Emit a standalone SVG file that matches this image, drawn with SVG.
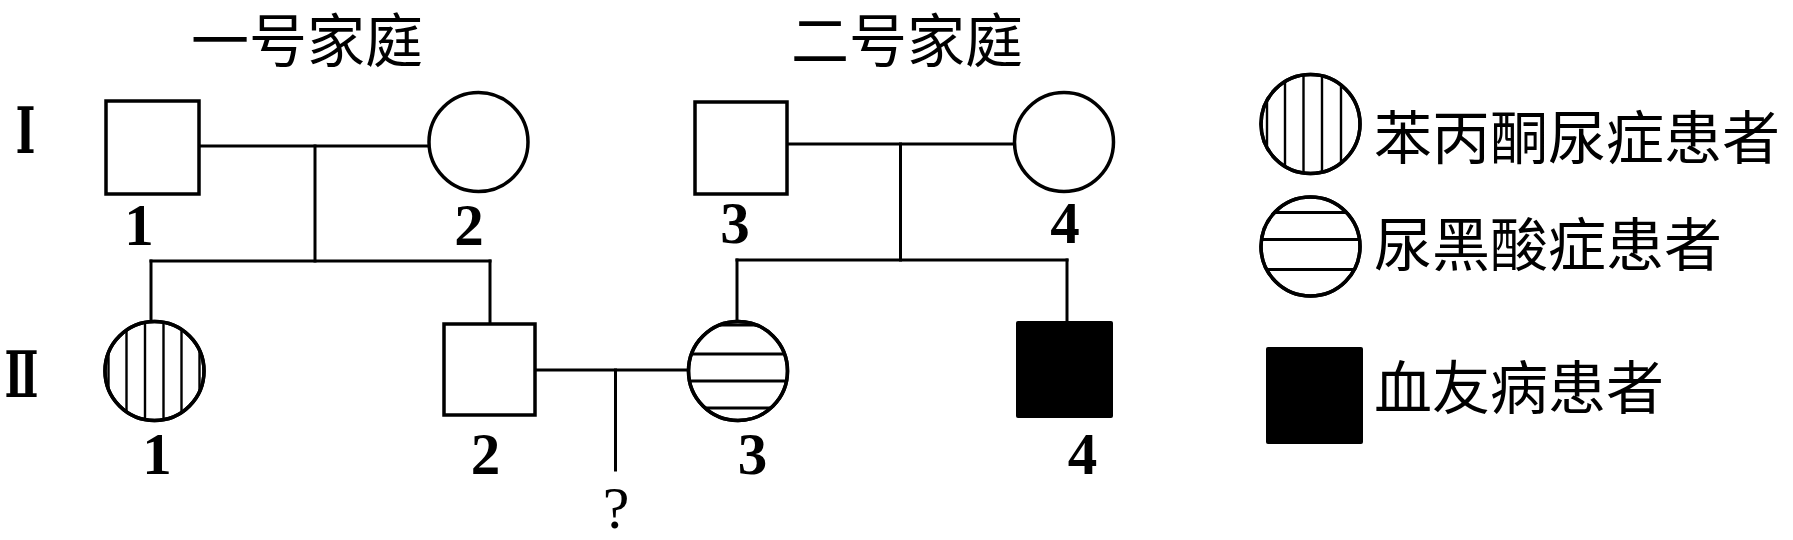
<svg xmlns="http://www.w3.org/2000/svg" width="1793" height="540" viewBox="0 0 1793 540">
<style>
.shape{fill:#fff;stroke:#000;stroke-width:3.5}
.filled{fill:#000;stroke:none}
.con{stroke:#000;stroke-width:3;fill:none;stroke-linecap:square}
.hv{stroke:#000;stroke-width:2.4}
.hh{stroke:#000;stroke-width:2.8}
.cjk{font-family:"Noto Sans CJK SC","Noto Sans CJK JP",sans-serif;font-size:58px;fill:#000}
.num{font-family:"Liberation Serif","Times New Roman",serif;font-weight:bold;font-size:59px;fill:#000;text-anchor:middle}
.rom{font-family:"Liberation Serif","DejaVu Serif",serif;font-weight:bold;font-size:64px;fill:#000;text-anchor:middle}
.q{font-family:"Liberation Serif","Times New Roman",serif;font-size:60px;fill:#000;text-anchor:middle}
</style>
<defs>
<clipPath id="cII1"><circle cx="154.5" cy="371" r="49.5"/></clipPath>
<clipPath id="cII3"><circle cx="738" cy="371" r="49.5"/></clipPath>
<clipPath id="cL1"><circle cx="1310.5" cy="124" r="49.5"/></clipPath>
<clipPath id="cL2"><circle cx="1310.5" cy="246.5" r="49.5"/></clipPath>
</defs>
<rect width="1793" height="540" fill="#fff"/>

<g id="titles">
<text class="cjk" x="307" y="62" text-anchor="middle" font-size="60">一号家庭</text>
<text class="cjk" x="907" y="62" text-anchor="middle" font-size="60">二号家庭</text>
</g>

<g id="generations">
<text class="rom" x="25.5" y="153" textLength="20" lengthAdjust="spacingAndGlyphs">Ⅰ</text>
<text class="rom" x="21.5" y="397" textLength="34" lengthAdjust="spacingAndGlyphs">Ⅱ</text>
</g>

<g id="connectors">
<line class="con" x1="200" y1="146" x2="428" y2="146"/>
<line class="con" x1="315" y1="146" x2="315" y2="261"/>
<line class="con" x1="151" y1="261" x2="490" y2="261"/>
<line class="con" x1="151" y1="261" x2="151" y2="321"/>
<line class="con" x1="490" y1="261" x2="490" y2="323"/>
<line class="con" x1="788" y1="144" x2="1014" y2="144"/>
<line class="con" x1="900.5" y1="144" x2="900.5" y2="260"/>
<line class="con" x1="737" y1="260" x2="1067" y2="260"/>
<line class="con" x1="737" y1="260" x2="737" y2="321"/>
<line class="con" x1="1067" y1="260" x2="1067" y2="321"/>
<line class="con" x1="535" y1="370" x2="688" y2="370"/>
<line class="con" x1="615.5" y1="370" x2="615.5" y2="470"/>
</g>

<g id="I-1">
<rect class="shape" x="106" y="101" width="93" height="93"/>
<text class="num" x="139" y="245">1</text>
</g>
<g id="I-2">
<circle class="shape" cx="478.5" cy="142" r="49.5"/>
<text class="num" x="469" y="245">2</text>
</g>
<g id="I-3">
<rect class="shape" x="695" y="102" width="92" height="92"/>
<text class="num" x="735" y="243">3</text>
</g>
<g id="I-4">
<circle class="shape" cx="1064" cy="142" r="49.5"/>
<text class="num" x="1065" y="243">4</text>
</g>

<g id="II-1">
<circle class="shape" cx="154.5" cy="371" r="49.5"/>
<g clip-path="url(#cII1)">
<line class="hv" x1="108.5" y1="318" x2="108.5" y2="424"/>
<line class="hv" x1="126.5" y1="318" x2="126.5" y2="424"/>
<line class="hv" x1="145" y1="318" x2="145" y2="424"/>
<line class="hv" x1="163.5" y1="318" x2="163.5" y2="424"/>
<line class="hv" x1="181.5" y1="318" x2="181.5" y2="424"/>
<line class="hv" x1="199.5" y1="318" x2="199.5" y2="424"/>
</g>
<circle cx="154.5" cy="371" r="49.5" fill="none" stroke="#000" stroke-width="3.5"/>
<text class="num" x="157" y="474">1</text>
</g>
<g id="II-2">
<rect class="shape" x="444" y="324" width="91" height="91"/>
<text class="num" x="485.5" y="474">2</text>
</g>
<g id="II-3">
<circle class="shape" cx="738" cy="371" r="49.5"/>
<g clip-path="url(#cII3)">
<line class="hh" x1="686" y1="325" x2="790" y2="325"/>
<line class="hh" x1="686" y1="354" x2="790" y2="354"/>
<line class="hh" x1="686" y1="381" x2="790" y2="381"/>
<line class="hh" x1="686" y1="408" x2="790" y2="408"/>
</g>
<circle cx="738" cy="371" r="49.5" fill="none" stroke="#000" stroke-width="3.5"/>
<text class="num" x="752.5" y="474">3</text>
</g>
<g id="II-4">
<rect class="filled" x="1016" y="321" width="97" height="97" rx="2"/>
<text class="num" x="1082.5" y="474">4</text>
</g>
<g id="child">
<text class="q" x="616" y="528">?</text>
</g>

<g id="legend-pku">
<circle class="shape" cx="1310.5" cy="124" r="49.5"/>
<g clip-path="url(#cL1)">
<line class="hv" x1="1267" y1="70" x2="1267" y2="178"/>
<line class="hv" x1="1285" y1="70" x2="1285" y2="178"/>
<line class="hv" x1="1303.5" y1="70" x2="1303.5" y2="178"/>
<line class="hv" x1="1322" y1="70" x2="1322" y2="178"/>
<line class="hv" x1="1341" y1="70" x2="1341" y2="178"/>
</g>
<circle cx="1310.5" cy="124" r="49.5" fill="none" stroke="#000" stroke-width="3.5"/>
<text class="cjk" x="1374" y="159">苯丙酮尿症患者</text>
</g>
<g id="legend-alk">
<circle class="shape" cx="1310.5" cy="246.5" r="49.5"/>
<g clip-path="url(#cL2)">
<line class="hh" x1="1258" y1="212.5" x2="1364" y2="212.5"/>
<line class="hh" x1="1258" y1="239.5" x2="1364" y2="239.5"/>
<line class="hh" x1="1258" y1="269.5" x2="1364" y2="269.5"/>
</g>
<circle cx="1310.5" cy="246.5" r="49.5" fill="none" stroke="#000" stroke-width="3.5"/>
<text class="cjk" x="1374" y="266">尿黑酸症患者</text>
</g>
<g id="legend-hem">
<rect class="filled" x="1266" y="347" width="97" height="97" rx="2"/>
<text class="cjk" x="1374" y="409">血友病患者</text>
</g>
</svg>
